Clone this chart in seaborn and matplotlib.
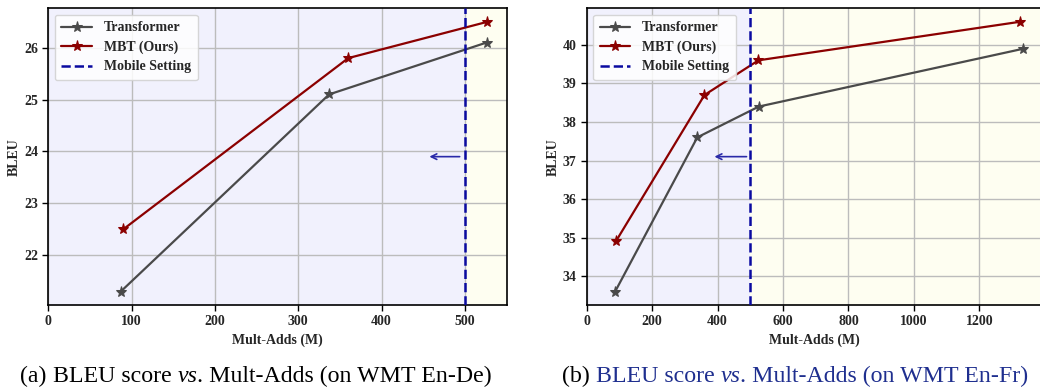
import matplotlib
matplotlib.use("Agg")
import matplotlib.pyplot as plt
import seaborn as sns
import pandas as pd
import numpy as np

# ---- data ----
ende_tf_x = [87, 337, 526]
ende_tf_y = [21.3, 25.1, 26.1]
ende_mbt_x = [90, 360, 527]
ende_mbt_y = [22.5, 25.8, 26.5]

enfr_tf_x = [87, 338, 526, 1334]
enfr_tf_y = [33.6, 37.6, 38.4, 39.9]
enfr_mbt_x = [89, 360, 525, 1324]
enfr_mbt_y = [34.9, 38.7, 39.6, 40.6]

mobile_limit = 500
series_names = ["Transformer", "MBT (Ours)", "Mobile Setting"]
captions = [
    [("(a) ", "black", "normal"), ("BLEU score ", "black", "normal"), ("vs", "black", "italic"),
     (". Mult-Adds (on WMT En-De)", "black", "normal")],
    [("(b) ", "black", "normal"), ("BLEU score ", "#1f2f8f", "normal"), ("vs", "#1f2f8f", "italic"),
     (". Mult-Adds (on WMT En-Fr)", "#1f2f8f", "normal")],
]

sns.set_style("white")
plt.rcParams["font.family"] = ["Liberation Serif", "DejaVu Serif"]

fig = plt.figure(figsize=(10.4, 3.92), dpi=100)
W, H = 1040, 392

def px_axes(l, r, t, b):
    return fig.add_axes([l / W, 1 - b / H, (r - l) / W, (b - t) / H])

ax1 = px_axes(48.3, 506.6, 8.3, 305)
ax2 = px_axes(586.7, 1041.5, 8.3, 305)

C_TF = "#4a4a4a"
C_MBT = "#8b0000"
C_MOB = "#0a0aa0"
C_ARR = "#2a2aa8"

def draw(ax, tfx, tfy, mbx, mby, xmax, arrow_y, arrow_head, xticks):
    ax.axvspan(0, mobile_limit, color="#f1f1fd", zorder=0, lw=0)
    ax.axvspan(mobile_limit, xmax, color="#fefef1", zorder=0, lw=0)
    df1 = pd.DataFrame({"x": tfx, "y": tfy})
    df2 = pd.DataFrame({"x": mbx, "y": mby})
    sns.lineplot(data=df1, x="x", y="y", ax=ax, color=C_TF, marker="*", markersize=8,
                 linewidth=1.6, label=series_names[0], sort=False, markeredgecolor=C_TF, zorder=3)
    sns.lineplot(data=df2, x="x", y="y", ax=ax, color=C_MBT, marker="*", markersize=8,
                 linewidth=1.6, label=series_names[1], sort=False, markeredgecolor=C_MBT, zorder=3)
    ax.axvline(mobile_limit, color=C_MOB, linestyle="--", linewidth=1.8, label=series_names[2], zorder=4)
    ax.annotate("", xy=(arrow_head, arrow_y), xytext=(mobile_limit - 3, arrow_y),
                arrowprops=dict(arrowstyle="->", color=C_ARR, lw=1.2), zorder=5)
    ax.set_xlim(0, xmax)
    ax.set_xticks(xticks)
    ax.set_axisbelow(True)
    ax.grid(True, color="#bcbcbc", linewidth=1.0)
    for s in ax.spines.values():
        s.set_color("black")
        s.set_linewidth(1.2)
    ax.tick_params(axis="both", which="major", direction="out", length=4, width=1,
                   labelsize=10, bottom=True, left=True, color="black")
    for lab in ax.get_xticklabels() + ax.get_yticklabels():
        lab.set_fontweight("bold")
    ax.set_xlabel("Mult-Adds (M)", fontsize=10, fontweight="bold", labelpad=4)
    ax.set_ylabel("BLEU", fontsize=10, fontweight="bold", labelpad=2)
    leg = ax.legend(loc="upper left", prop={"weight": "bold", "size": 10}, frameon=True,
                    handlelength=2.2, handletextpad=0.85, borderpad=0.5, labelspacing=0.45,
                    framealpha=0.85, borderaxespad=0.45)
    leg.get_frame().set_edgecolor("#d0d0d0")

draw(ax1, ende_tf_x, ende_tf_y, ende_mbt_x, ende_mbt_y, 550, 23.9, 454, [0, 100, 200, 300, 400, 500])
draw(ax2, enfr_tf_x, enfr_tf_y, enfr_mbt_x, enfr_mbt_y, 1390, 37.1, 382, [0, 200, 400, 600, 800, 1000, 1200])
ax1.margins(y=0.05)
ax2.margins(y=0.05)
ax1.set_yticks([22, 23, 24, 25, 26])
ax2.set_yticks([34, 35, 36, 37, 38, 39, 40])

# captions
fig.canvas.draw()
renderer = fig.canvas.get_renderer()
cap_centers = [256, 795]
cap_y = 1 - 376 / H
for parts, cx in zip(captions, cap_centers):
    texts = []
    widths = []
    for s, col, sty in parts:
        t = fig.text(0, cap_y, s, fontsize=17.2, color=col, style=sty, va="center", ha="left")
        bb = t.get_window_extent(renderer)
        texts.append(t)
        widths.append(bb.width)
    total = sum(widths)
    x = cx - total / 2
    for t, w in zip(texts, widths):
        t.set_x(x / W)
        x += w

fig.savefig("out.png", dpi=100)
